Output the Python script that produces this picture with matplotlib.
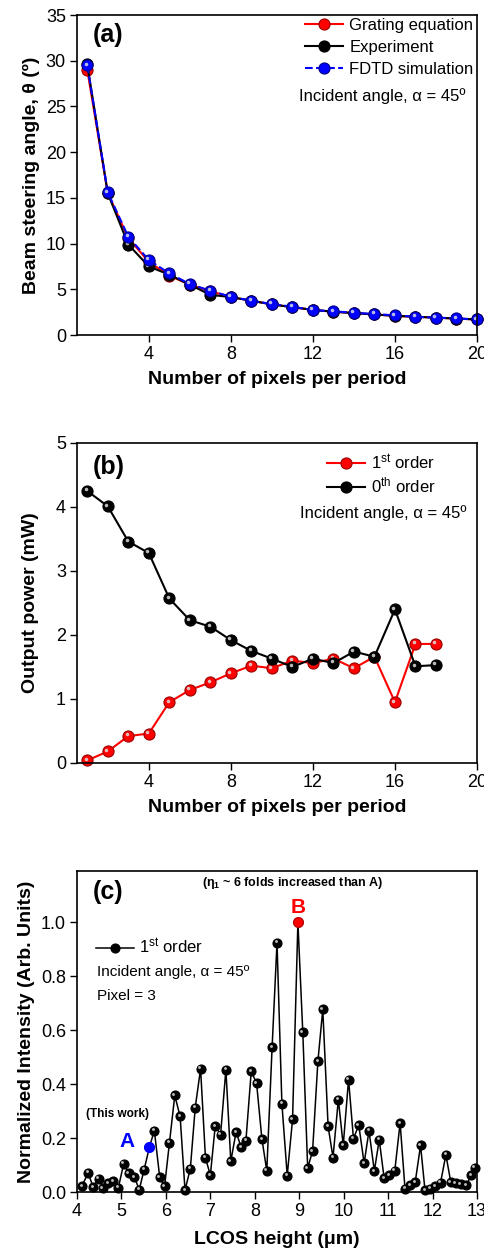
import numpy as np
import matplotlib.pyplot as plt
from matplotlib import transforms

plt.rcParams['font.family'] = ['Liberation Sans', 'DejaVu Sans']
plt.rcParams['mathtext.fontset'] = 'custom'
plt.rcParams['mathtext.rm'] = 'Liberation Sans'
plt.rcParams['mathtext.it'] = 'Liberation Sans:italic'
plt.rcParams['mathtext.bf'] = 'Liberation Sans:bold'

# (a) beam steering angle vs pixels per period
pixels = np.arange(1, 21)
grating = [29.0, 15.5, 10.6, 8.0, 6.5, 5.5, 4.8, 4.15, 3.75, 3.35,
           3.05, 2.75, 2.55, 2.4, 2.25, 2.1, 2.0, 1.9, 1.8, 1.7]
experiment = [29.6, 15.5, 9.9, 7.5, 6.6, 5.5, 4.4, 4.15, 3.75, 3.35,
              3.05, 2.75, 2.55, 2.4, 2.25, 2.1, 2.0, 1.9, 1.8, 1.7]
fdtd = [29.5, 15.6, 10.75, 8.2, 6.74, 5.58, 4.85, 4.19, 3.75, 3.39,
        3.1, 2.73, 2.59, 2.44, 2.3, 2.15, 2.0, 1.9, 1.82, 1.71]

# (b) output power vs pixels per period
pixels_b = np.arange(1, 19)
first_order = [0.04, 0.18, 0.42, 0.46, 0.95, 1.14, 1.26, 1.40, 1.52, 1.48,
               1.60, 1.56, 1.63, 1.48, 1.66, 0.95, 1.86, 1.86]
zeroth_order = [4.25, 4.01, 3.46, 3.28, 2.57, 2.23, 2.13, 1.92, 1.75, 1.63,
                1.50, 1.63, 1.56, 1.74, 1.66, 2.40, 1.51, 1.53]

# (c) normalized intensity vs LCOS height
lcos_h = [4.11, 4.25, 4.36, 4.49, 4.58, 4.70, 4.82, 4.93, 5.05, 5.16,
          5.29, 5.40, 5.51, 5.63, 5.74, 5.86, 5.97, 6.08, 6.20, 6.32,
          6.43, 6.55, 6.66, 6.78, 6.89, 7.00, 7.11, 7.23, 7.35, 7.46,
          7.58, 7.69, 7.80, 7.92, 8.04, 8.16, 8.27, 8.39, 8.50, 8.61,
          8.73, 8.85, 8.97, 9.08, 9.19, 9.30, 9.42, 9.53, 9.65, 9.76,
          9.88, 9.99, 10.11, 10.22, 10.34, 10.46, 10.57, 10.69, 10.80, 10.91,
          11.02, 11.15, 11.27, 11.38, 11.49, 11.61, 11.73, 11.83, 11.95, 12.06,
          12.18, 12.30, 12.41, 12.52, 12.63, 12.76, 12.87, 12.95]
intensity = [0.021, 0.072, 0.019, 0.050, 0.015, 0.033, 0.041, 0.016, 0.105, 0.070,
             0.056, 0.009, 0.083, 0.167, 0.228, 0.056, 0.021, 0.183, 0.358, 0.280,
             0.007, 0.087, 0.313, 0.457, 0.127, 0.062, 0.245, 0.212, 0.454, 0.114,
             0.223, 0.167, 0.190, 0.447, 0.404, 0.197, 0.079, 0.538, 0.924, 0.327,
             0.061, 0.270, 1.000, 0.593, 0.089, 0.151, 0.485, 0.677, 0.243, 0.128,
             0.343, 0.173, 0.417, 0.198, 0.248, 0.107, 0.227, 0.078, 0.194, 0.052,
             0.062, 0.079, 0.256, 0.012, 0.025, 0.037, 0.173, 0.006, 0.012, 0.022,
             0.035, 0.138, 0.037, 0.033, 0.029, 0.025, 0.062, 0.090]
point_a = 13   # index of point A
point_b = 42   # index of point B

fig = plt.figure(figsize=(4.85, 12.52), dpi=100)
ax1 = fig.add_axes([0.1588, 0.7324, 0.8247, 0.2556])
ax2 = fig.add_axes([0.1588, 0.3906, 0.8247, 0.2556])
ax3 = fig.add_axes([0.1588, 0.0479, 0.8247, 0.2564])


def balls(ax, x, y, color, edge, ms, ls='-', lw=1.5, label=None):
    # sphere-like marker: solid ball plus small light highlight
    line, = ax.plot(x, y, ls, color=color, lw=lw, marker='o', ms=ms,
                    mfc=color, mec=edge, mew=0.8, label=label, clip_on=False)
    shift = transforms.offset_copy(ax.transData, fig=fig, x=-ms * 0.15,
                                   y=ms * 0.15, units='points')
    ax.plot(x, y, ls='none', marker='o', ms=ms * 0.32, mfc='#dddddd',
            mec='none', alpha=0.85, transform=shift, clip_on=False)
    return line


for ax in (ax1, ax2, ax3):
    ax.tick_params(direction='out', length=5, width=1, labelsize=13,
                   top=False, right=False, pad=3)
    for s in ax.spines.values():
        s.set_linewidth(1.2)

lab_font = dict(fontsize=14, fontweight='bold')
leg_opts = dict(frameon=False, fontsize=12, handlelength=2.3, handletextpad=0.35,
                labelspacing=0.2, borderpad=0, borderaxespad=0)

# panel (a)
balls(ax1, pixels, grating, 'red', '#990000', 8, label='Grating equation')
balls(ax1, pixels, experiment, 'black', 'black', 8, label='Experiment')
balls(ax1, pixels, fdtd, 'blue', '#000088', 8, ls='--', label='FDTD simulation')
ax1.set_xlim(0.5, 20)
ax1.set_ylim(0, 35)
ax1.set_xticks([4, 8, 12, 16, 20])
ax1.set_yticks(np.arange(0, 36, 5))
ax1.set_xlabel('Number of pixels per period', labelpad=6, **lab_font)
ax1.set_ylabel('Beam steering angle, θ (º)', labelpad=4, **lab_font)
ax1.legend(loc='upper left', bbox_to_anchor=(0.57, 0.99),
           **dict(leg_opts, labelspacing=0.42))
ax1.text(0.555, 0.747, 'Incident angle, α = 45º', transform=ax1.transAxes,
         ha='left', va='center', fontsize=12)
ax1.text(0.04, 0.975, '(a)', transform=ax1.transAxes, ha='left', va='top',
         fontsize=18, fontweight='bold')

# panel (b)
balls(ax2, pixels_b, first_order, 'red', '#990000', 8,
      label='1$^{\\mathrm{st}}$ order')
balls(ax2, pixels_b, zeroth_order, 'black', 'black', 8,
      label='0$^{\\mathrm{th}}$ order')
ax2.set_xlim(0.5, 20)
ax2.set_ylim(0, 5)
ax2.set_xticks([4, 8, 12, 16, 20])
ax2.set_yticks(np.arange(0, 6, 1))
ax2.set_xlabel('Number of pixels per period', labelpad=6, **lab_font)
ax2.set_ylabel('Output power (mW)', labelpad=12, **lab_font)
ax2.legend(loc='upper left', bbox_to_anchor=(0.625, 0.97), **leg_opts)
ax2.text(0.5575, 0.781, 'Incident angle, α = 45º', transform=ax2.transAxes,
         ha='left', va='center', fontsize=12)
ax2.text(0.04, 0.9625, '(b)', transform=ax2.transAxes, ha='left', va='top',
         fontsize=18, fontweight='bold')

# panel (c)
balls(ax3, lcos_h, intensity, 'black', 'black', 6.5, lw=1.1,
      label='1$^{\\mathrm{st}}$ order')
ax3.plot(lcos_h[point_a], intensity[point_a], 'o', color='blue', ms=7,
         zorder=5, clip_on=False)
ax3.plot(lcos_h[point_b], intensity[point_b], 'o', color='red', mec='#bb0000',
         ms=7, zorder=5)
ax3.set_xlim(4, 13)
ax3.set_ylim(0, 1.19)
ax3.set_xticks(np.arange(4, 14, 1))
ax3.set_yticks(np.arange(0, 1.01, 0.2))
ax3.set_yticklabels(['0.0', '0.2', '0.4', '0.6', '0.8', '1.0'])
ax3.set_xlabel('LCOS height (μm)', labelpad=8, **lab_font)
ax3.set_ylabel('Normalized Intensity (Arb. Units)', labelpad=4, **lab_font)
ax3.legend(loc='upper left', bbox_to_anchor=(0.0475, 0.795),
           **dict(leg_opts, handlelength=2.3, handletextpad=0.3))
ax3.text(0.05, 0.685, 'Incident angle, α = 45º', transform=ax3.transAxes,
         ha='left', va='center', fontsize=11)
ax3.text(0.05, 0.61, 'Pixel = 3', transform=ax3.transAxes,
         ha='left', va='center', fontsize=11)
ax3.text(0.04, 0.972, '(c)', transform=ax3.transAxes, ha='left', va='top',
         fontsize=18, fontweight='bold')
ax3.text(0.54, 0.962, '(η$_{\\mathbf{1}}$ ~ 6 folds increased than A)',
         transform=ax3.transAxes, ha='center', va='center', fontsize=9,
         fontweight='bold')
ax3.annotate('B', (lcos_h[point_b], intensity[point_b]), xytext=(0, 4),
             textcoords='offset points', ha='center', va='bottom',
             color='red', fontsize=15, fontweight='bold')
ax3.annotate('A', (lcos_h[point_a], intensity[point_a]), xytext=(-16, 4),
             textcoords='offset points', ha='center', va='center',
             color='blue', fontsize=15, fontweight='bold')
ax3.annotate('(This work)', (lcos_h[point_a], intensity[point_a]),
             xytext=(-23, 24), textcoords='offset points', ha='center',
             va='center', fontsize=8.5, fontweight='bold')

fig.savefig('out.png', dpi=100)
